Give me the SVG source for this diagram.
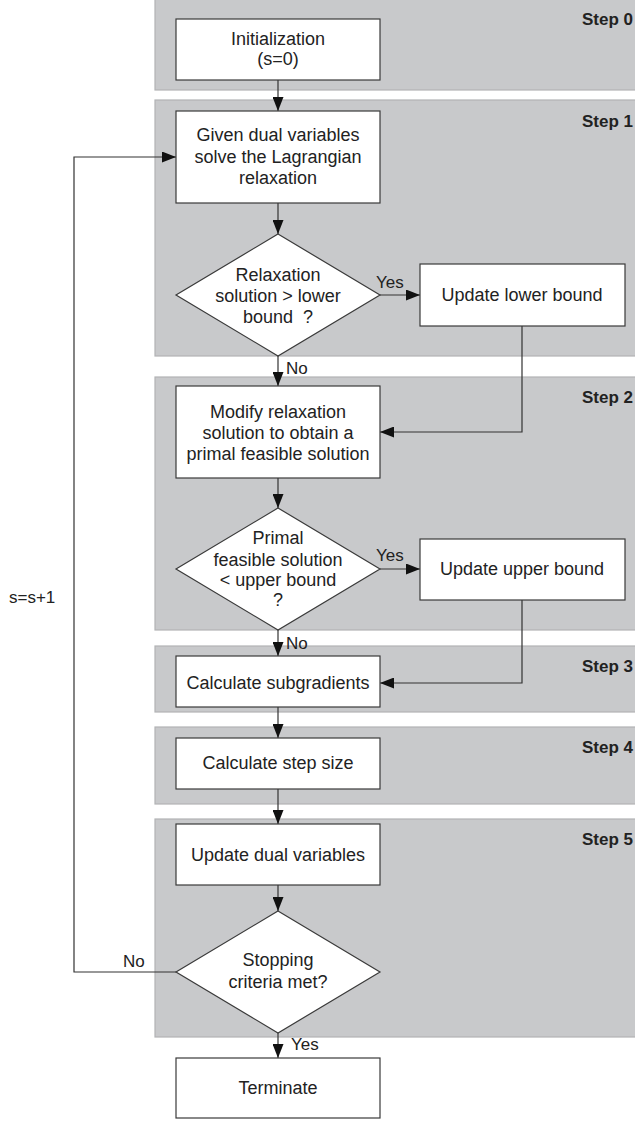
<svg xmlns="http://www.w3.org/2000/svg" width="635" height="1122" viewBox="0 0 635 1122">
<style>
.panel{fill:#c8c9cb;stroke:#b2b3b5;stroke-width:1.2}
.box{fill:#fff;stroke:#3a3a3a;stroke-width:1.2}
.t{font-family:"Liberation Sans",Arial,sans-serif;font-size:18px;fill:#222;text-anchor:middle}
.l{font-family:"Liberation Sans",Arial,sans-serif;font-size:17px;fill:#222}
.s{font-family:"Liberation Sans",Arial,sans-serif;font-size:17px;font-weight:bold;fill:#222;text-anchor:end}
.c{fill:none;stroke:#333;stroke-width:1.2}
</style>
<defs>
<marker id="ah" markerWidth="14" markerHeight="11" refX="14" refY="5.5" orient="auto" markerUnits="userSpaceOnUse">
<path d="M0,0 L14,5.5 L0,11 Z" fill="#111"/>
</marker>
</defs>
<rect width="635" height="1122" fill="#fff"/>
<g id="panels">
<rect class="panel" x="155" y="-2" width="485" height="92"/>
<rect class="panel" x="155" y="100" width="485" height="256"/>
<rect class="panel" x="155" y="377" width="485" height="253"/>
<rect class="panel" x="155" y="646" width="485" height="66"/>
<rect class="panel" x="155" y="727" width="485" height="77"/>
<rect class="panel" x="155" y="819" width="485" height="218"/>
<text class="s" x="633" y="25">Step 0</text>
<text class="s" x="633" y="127">Step 1</text>
<text class="s" x="633" y="403">Step 2</text>
<text class="s" x="633" y="672">Step 3</text>
<text class="s" x="633" y="753">Step 4</text>
<text class="s" x="633" y="845">Step 5</text>
</g>
<g id="connectors">
<line class="c" x1="278" y1="80" x2="278" y2="111" marker-end="url(#ah)"/>
<line class="c" x1="278" y1="203" x2="278" y2="234" marker-end="url(#ah)"/>
<line class="c" x1="380" y1="295" x2="420" y2="295" marker-end="url(#ah)"/>
<line class="c" x1="278" y1="356" x2="278" y2="386" marker-end="url(#ah)"/>
<polyline class="c" points="522,326 522,432 380,432" marker-end="url(#ah)"/>
<line class="c" x1="278" y1="478" x2="278" y2="508" marker-end="url(#ah)"/>
<line class="c" x1="380" y1="569" x2="420" y2="569" marker-end="url(#ah)"/>
<line class="c" x1="278" y1="630" x2="278" y2="656" marker-end="url(#ah)"/>
<polyline class="c" points="522,600 522,683 380,683" marker-end="url(#ah)"/>
<line class="c" x1="278" y1="707" x2="278" y2="738" marker-end="url(#ah)"/>
<line class="c" x1="278" y1="789" x2="278" y2="824" marker-end="url(#ah)"/>
<line class="c" x1="278" y1="885" x2="278" y2="911" marker-end="url(#ah)"/>
<line class="c" x1="278" y1="1033" x2="278" y2="1058" marker-end="url(#ah)"/>
<polyline class="c" points="176,972 74,972 74,157 176,157" marker-end="url(#ah)"/>
<text class="l" x="376" y="288">Yes</text>
<text class="l" x="286" y="374">No</text>
<text class="l" x="376" y="561">Yes</text>
<text class="l" x="286" y="649">No</text>
<text class="l" x="291" y="1050">Yes</text>
<text class="l" x="123" y="967">No</text>
<text class="l" x="9" y="603">s=s+1</text>
</g>
<g id="init">
<rect class="box" x="176" y="19" width="204" height="61"/>
<text class="t" x="278" y="45">Initialization</text>
<text class="t" x="278" y="65">(s=0)</text>
</g>
<g id="solve">
<rect class="box" x="176" y="111" width="204" height="92"/>
<text class="t" x="278" y="141">Given dual variables</text>
<text class="t" x="278" y="163">solve the Lagrangian</text>
<text class="t" x="278" y="184">relaxation</text>
</g>
<g id="dec1">
<polygon class="box" points="278,234 380,295 278,356 176,295"/>
<text class="t" x="278" y="281">Relaxation</text>
<text class="t" x="278" y="302">solution &gt; lower</text>
<text class="t" x="278" y="323" xml:space="preserve">bound  ?</text>
</g>
<g id="lower">
<rect class="box" x="420" y="264" width="205" height="62"/>
<text class="t" x="522" y="301">Update lower bound</text>
</g>
<g id="modify">
<rect class="box" x="176" y="386" width="204" height="92"/>
<text class="t" x="278" y="418">Modify relaxation</text>
<text class="t" x="278" y="439">solution to obtain a</text>
<text class="t" x="278" y="460">primal feasible solution</text>
</g>
<g id="dec2">
<polygon class="box" points="278,508 380,569 278,630 176,569"/>
<text class="t" x="278" y="544">Primal</text>
<text class="t" x="278" y="566">feasible solution</text>
<text class="t" x="278" y="586">&lt; upper bound</text>
<text class="t" x="278" y="606">?</text>
</g>
<g id="upper">
<rect class="box" x="420" y="539" width="205" height="61"/>
<text class="t" x="522" y="575">Update upper bound</text>
</g>
<g id="subgrad">
<rect class="box" x="176" y="656" width="204" height="51"/>
<text class="t" x="278" y="689">Calculate subgradients</text>
</g>
<g id="stepsize">
<rect class="box" x="176" y="738" width="204" height="51"/>
<text class="t" x="278" y="769">Calculate step size</text>
</g>
<g id="updual">
<rect class="box" x="176" y="824" width="204" height="61"/>
<text class="t" x="278" y="861">Update dual variables</text>
</g>
<g id="dec3">
<polygon class="box" points="278,911 380,972 278,1033 176,972"/>
<text class="t" x="278" y="966">Stopping</text>
<text class="t" x="278" y="988">criteria met?</text>
</g>
<g id="terminate">
<rect class="box" x="176" y="1058" width="204" height="60"/>
<text class="t" x="278" y="1094">Terminate</text>
</g>
</svg>
